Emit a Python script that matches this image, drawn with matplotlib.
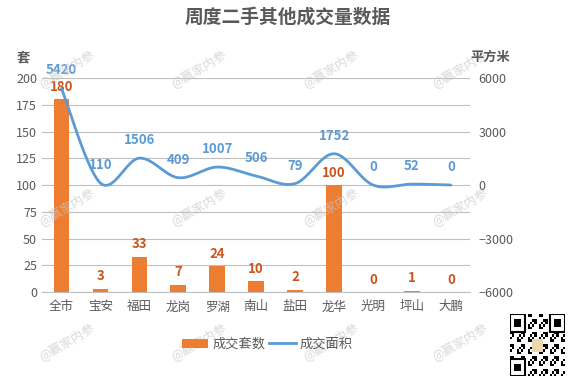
import matplotlib

matplotlib.use("Agg")

import matplotlib.pyplot as plt
import numpy as np
from matplotlib.lines import Line2D
from matplotlib.patches import Patch, Rectangle

plt.rcParams["font.family"] = ["Noto Sans CJK SC", "DejaVu Sans"]

TITLE = "周度二手其他成交量数据"
CATEGORIES = ["全市", "宝安", "福田", "龙岗", "罗湖", "南山", "盐田", "龙华", "光明", "坪山", "大鹏"]
UNITS = [180, 3, 33, 7, 24, 10, 2, 100, 0, 1, 0]          # 成交套数 (套)
AREA = [5420, 110, 1506, 409, 1007, 506, 79, 1752, 0, 52, 0]  # 成交面积 (平方米)
LEFT_TICKS = [0, 25, 50, 75, 100, 125, 150, 175, 200]
RIGHT_TICKS = [-6000, -3000, 0, 3000, 6000]

ORANGE = "#ED7D31"
ORANGE_TXT = "#C9561A"
BLUE = "#5B9BD5"
GREY_TXT = "#595959"
GRID = "#BFBFBF"


def smooth(xs, ys, n=30):
    """Catmull-Rom style smoothing, like Excel's smoothed line."""
    xs = np.asarray(xs, float)
    ys = np.asarray(ys, float)
    px = np.concatenate([[xs[0]], xs, [xs[-1]]])
    py = np.concatenate([[ys[0]], ys, [ys[-1]]])
    out_x, out_y = [], []
    t = np.linspace(0, 1, n)
    for i in range(1, len(px) - 2):
        p0 = np.array([px[i], py[i]])
        p3 = np.array([px[i + 1], py[i + 1]])
        c1 = p0 + (np.array([px[i + 1], py[i + 1]]) - np.array([px[i - 1], py[i - 1]])) / 6
        c2 = p3 - (np.array([px[i + 2], py[i + 2]]) - np.array([px[i], py[i]])) / 6
        b = ((1 - t) ** 3)[:, None] * p0 + (3 * (1 - t) ** 2 * t)[:, None] * c1 \
            + (3 * (1 - t) * t ** 2)[:, None] * c2 + (t ** 3)[:, None] * p3
        out_x.extend(b[:, 0])
        out_y.extend(b[:, 1])
    return out_x, out_y


fig = plt.figure(figsize=(5.75, 3.82), dpi=100)
ax = fig.add_axes([0.073, 0.2356, 0.745, 0.5602])
ax2 = ax.twinx()

x = np.arange(len(CATEGORIES))
ax.bar(x, UNITS, width=0.4, color=ORANGE, zorder=2)
ax.set_xlim(-0.5, len(CATEGORIES) - 0.5)
ax.set_ylim(0, 200)
ax.set_yticks(LEFT_TICKS)
ax.grid(axis="y", color=GRID, linewidth=0.8)
ax.set_axisbelow(True)
ax.set_xticks(x)
ax.set_xticklabels(CATEGORIES)
for a in (ax, ax2):
    for s in a.spines.values():
        s.set_visible(False)
ax.spines["bottom"].set_visible(True)
ax.spines["bottom"].set_color(GRID)
ax.tick_params(axis="both", length=0, colors=GREY_TXT, labelsize=9)
ax.tick_params(axis="x", pad=6)

for xi, v in zip(x, UNITS):
    ax.annotate(str(v), (xi, v), xytext=(0, 9), textcoords="offset points",
                ha="center", va="center", color=ORANGE_TXT, fontsize=9.5, fontweight="bold")

sx, sy = smooth(x, AREA)
ax2.plot(sx, sy, color=BLUE, linewidth=2, solid_capstyle="round", zorder=3)
ax2.set_ylim(-6000, 6000)
ax2.set_yticks(RIGHT_TICKS)
ax2.tick_params(axis="y", length=0, colors=GREY_TXT, labelsize=9, pad=6)
for xi, v in zip(x, AREA):
    ax2.annotate(str(v), (xi, v), xytext=(0, 13), textcoords="offset points",
                 ha="center", va="center", color=BLUE, fontsize=9.5, fontweight="bold")

fig.text(0.5, 0.955, TITLE, ha="center", va="center", fontsize=13.5,
         fontweight="bold", color=GREY_TXT)
fig.text(0.040, 0.85, "套", ha="center", va="center", fontsize=9.5,
         fontweight="bold", color=GREY_TXT)
fig.text(0.853, 0.85, "平方米", ha="center", va="center", fontsize=9.5,
         fontweight="bold", color=GREY_TXT)

handles = [Patch(facecolor=ORANGE), Line2D([], [], color=BLUE, linewidth=2)]
fig.legend(handles, ["成交套数", "成交面积"], loc="center", bbox_to_anchor=(0.465, 0.098),
           ncol=2, frameon=False, fontsize=9.5, labelcolor=GREY_TXT,
           handlelength=2.0, handletextpad=0.3, columnspacing=0.3)

# watermarks
for wy in (0.82, 0.46, 0.105):
    for wx in (0.115, 0.345, 0.575, 0.80):
        fig.text(wx, wy, "@赢家内参", rotation=30, ha="center", va="center",
                 fontsize=9, color="#C8C8C8", alpha=0.7, zorder=0)

# QR code placeholder
qr = fig.add_axes([0.887, 0.015, 0.096, 0.162])
qr.set_xlim(0, 25)
qr.set_ylim(0, 25)
qr.axis("off")
for i in range(25):
    for j in range(25):
        if (i * 7 + j * 13 + i * j) % 5 < 2:
            qr.add_patch(Rectangle((i, j), 1, 1, color="black", lw=0))
for fx, fy in ((0, 18), (18, 18), (0, 0)):
    qr.add_patch(Rectangle((fx, fy), 7, 7, color="white", lw=0))
    qr.add_patch(Rectangle((fx, fy), 7, 7, fill=False, edgecolor="black", lw=1.5))
    qr.add_patch(Rectangle((fx + 2, fy + 2), 3, 3, color="black", lw=0))
qr.add_patch(Rectangle((10, 10), 5, 5, color="#E8D9B0", lw=0))

fig.savefig("out.png", dpi=100)
